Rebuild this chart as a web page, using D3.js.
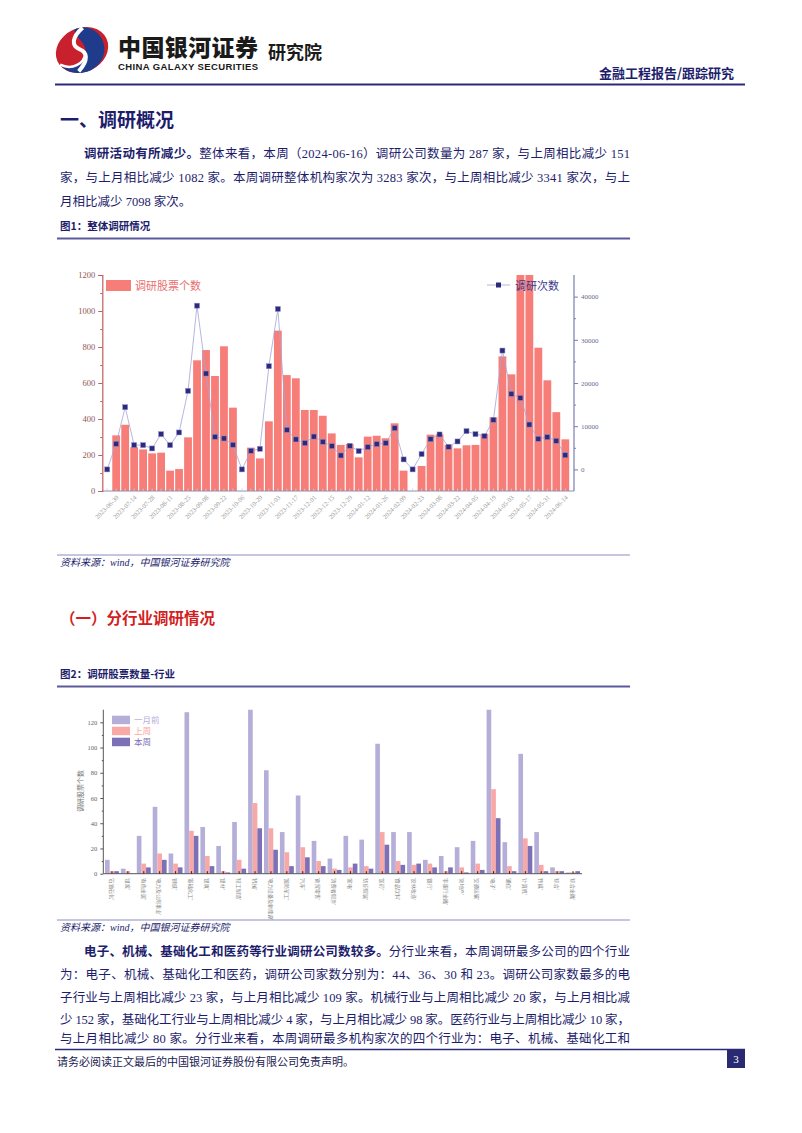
<!DOCTYPE html>
<html><head><meta charset="utf-8">
<script src="https://cdn.jsdelivr.net/npm/d3@7"></script>
<style>
html,body{margin:0;padding:0;background:#fff;}
svg{display:block;}
</style></head>
<body>
<svg id="page" width="802" height="1133"></svg>
<script>
// ---------------- DATA ----------------
const weeks = ["2023-06-23","2023-06-30","2023-07-07","2023-07-14","2023-07-21","2023-07-28","2023-08-04","2023-08-11","2023-08-18","2023-08-25",
"2023-09-01","2023-09-08","2023-09-15","2023-09-22","2023-09-29","2023-10-06","2023-10-13","2023-10-20","2023-10-27","2023-11-03",
"2023-11-10","2023-11-17","2023-11-24","2023-12-01","2023-12-08","2023-12-15","2023-12-22","2023-12-29","2024-01-05","2024-01-12",
"2024-01-19","2024-01-26","2024-02-02","2024-02-09","2024-02-16","2024-02-23","2024-03-01","2024-03-08","2024-03-15","2024-03-22",
"2024-03-29","2024-04-05","2024-04-12","2024-04-19","2024-04-26","2024-05-03","2024-05-10","2024-05-17","2024-05-24","2024-05-31",
"2024-06-07","2024-06-14"];
const weekTickLabels = ["2023-06-30","2023-07-14","2023-07-28","2023-08-11","2023-08-25","2023-09-08","2023-09-22","2023-10-06","2023-10-20",
"2023-11-03","2023-11-17","2023-12-01","2023-12-15","2023-12-29","2024-01-12","2024-01-26","2024-02-09","2024-02-23","2024-03-08",
"2024-03-22","2024-04-05","2024-04-19","2024-05-03","2024-05-17","2024-05-31","2024-06-14"];
const stockCount = [0,309,368,243,231,209,213,113,122,298,726,783,639,804,463,0,241,181,387,891,644,626,450,450,418,320,256,261,187,302,
307,293,376,113,0,139,313,315,256,237,254,256,317,409,748,648,1420,1369,796,615,438,287];
const visitCount = [0,5920,14400,5620,5620,4850,8160,5620,8550,18180,37900,22190,7540,7160,5690,0,4300,4760,23880,37140,
9160,6940,6100,7600,6390,5390,3230,5460,4240,5160,5850,6080,9550,2310,0,3540,7000,8090,5230,6470,
8860,8160,7700,11470,27510,17480,16550,10381,7080,7470,6624,3283];
const leftTicks = [0,200,400,600,800,1000,1200];
const leftMinor = [100,300,500,700,900,1100];
const rightTicks = [0,10000,20000,30000,40000];
const rightMinor = [5000,15000,25000,35000];

const industries = ["'石油石化'","'煤炭'","'有色金属'","'电力及公用事业'","'钢铁'","'基础化工'","'建筑'","'建材'","'轻工制造'","'机械'",
"'电力设备及新能源'","'国防军工'","'汽车'","'商贸零售'","'消费者服务'","'家电'","'纺织服装'","'医药'","'食品饮料'","'农林牧渔'",
"'银行'","'非银行金融'","'房地产'","'交通运输'","'电子'","'通信'","'计算机'","'传媒'","'综合'","'综合金融'"];
const monthAgo = [11,4,30,53,16,128,37,22,41,188,82,33,62,26,12,30,27,103,33,33,11,14,21,26,153,25,95,33,5,1];
const lastWeek = [2,2,8,16,8,34,14,2,11,56,36,17,21,10,4,5,6,33,10,7,8,2,5,8,67,6,28,7,2,1];
const thisWeek = [2,0,5,11,5,30,6,1,4,36,19,6,13,6,3,8,4,23,7,8,5,5,1,3,44,2,22,2,2,2];
const seriesNames = ["一月前","上周","本周"];
const indTicks = [0,20,40,60,80,100,120];
const indMinor = [10,30,50,70,90,110];

// ---------------- PAGE ----------------
const svg = d3.select("#page");
const NAVY = "#1d1d6c";
const CJK = "'Liberation Serif','Noto Sans CJK SC',serif";
const SANS = "'Noto Sans CJK SC','Liberation Sans',sans-serif";

// logo
const logo = svg.append("g").attr("transform","translate(82,50) rotate(-25)");
logo.append("ellipse").attr("rx",27).attr("ry",22).attr("fill","#c8202c");
logo.append("path").attr("d","M 2,-22 C 30,-20 30,20 0,22 C -14,22 -24,14 -26,4 C -18,14 -4,14 2,4 C 8,-6 -2,-14 2,-22 Z").attr("fill","#1f3c8c");
logo.append("path").attr("d","M 10,-20 C -4,-16 -8,-8 -2,-2 C 4,4 2,12 -12,18").attr("fill","none").attr("stroke","#fff").attr("stroke-width",4);
logo.append("path").attr("d","M -26,4 C -18,14 -4,14 2,4").attr("fill","none").attr("stroke","#fff").attr("stroke-width",2.5);

svg.append("text").attr("x",118).attr("y",56).attr("font-family",SANS).attr("font-weight",900)
  .attr("font-size",23).attr("fill","#1a1a1a").attr("textLength",140).text("中国银河证券");
svg.append("text").attr("x",118).attr("y",70).attr("font-family","'Liberation Sans',sans-serif").attr("font-weight",700)
  .attr("font-size",9.5).attr("fill","#1a1a1a").attr("textLength",140).text("CHINA GALAXY SECURITIES");
svg.append("text").attr("x",268).attr("y",59).attr("font-family",SANS).attr("font-weight",700)
  .attr("font-size",18).attr("fill","#1a1a1a").text("研究院");
svg.append("text").attr("x",734).attr("y",78).attr("text-anchor","end").attr("font-family",SANS).attr("font-weight",700)
  .attr("font-size",13).attr("fill",NAVY).text("金融工程报告/跟踪研究");
svg.append("line").attr("x1",55).attr("x2",745).attr("y1",84.5).attr("y2",84.5).attr("stroke","#2a2a7a").attr("stroke-width",2);

// section title
svg.append("text").attr("x",60).attr("y",127).attr("font-family",SANS).attr("font-weight",700)
  .attr("font-size",19).attr("fill",NAVY).text("一、调研概况");

function para(x, y, width, parts, size){
  const t = svg.append("text").attr("x",x).attr("y",y).attr("font-family",CJK).attr("font-size",size||12.5)
    .attr("fill",NAVY).attr("textLength",width).attr("lengthAdjust","spacing");
  parts.forEach(p=>{
    const s = t.append("tspan").text(p.t);
    if(p.b){ s.attr("font-weight",700).attr("font-family",SANS); }
  });
  return t;
}
para(84,158,546,[{t:"调研活动有所减少。",b:1},{t:"整体来看，本周（2024-06-16）调研公司数量为 287 家，与上周相比减少 151"}]);
para(60,182,570,[{t:"家，与上月相比减少 1082 家。本周调研整体机构家次为 3283 家次，与上周相比减少 3341 家次，与上"}]);
svg.append("text").attr("x",60).attr("y",206).attr("font-family",CJK).attr("font-size",12.5).attr("fill",NAVY)
  .text("月相比减少 7098 家次。");

function figTitle(y, txt){
  svg.append("text").attr("x",60).attr("y",y).attr("font-family",SANS).attr("font-weight",700)
    .attr("font-size",10.5).attr("fill",NAVY).text(txt);
  svg.append("line").attr("x1",57).attr("x2",630).attr("y1",y+8.5).attr("y2",y+8.5).attr("stroke","#5a5a9c").attr("stroke-width",2);
}
function source(y){
  svg.append("line").attr("x1",57).attr("x2",630).attr("y1",y).attr("y2",y).attr("stroke","#8c8cc0").attr("stroke-width",1);
  svg.append("text").attr("x",60).attr("y",y+11).attr("font-family",CJK).attr("font-style","italic")
    .attr("font-size",10).attr("fill",NAVY).text("资料来源：wind，中国银河证券研究院");
}
figTitle(230,"图1：整体调研情况");
source(555);

svg.append("text").attr("x",60).attr("y",624).attr("font-family",SANS).attr("font-weight",700)
  .attr("font-size",15.5).attr("fill","#d21f1f").text("（一）分行业调研情况");
figTitle(678,"图2：调研股票数量-行业");
source(920);

// ---------------- CHART 1 ----------------
const c1 = svg.append("g");
const X0 = 102.3, X1 = 574, YB = 491, YT = 275;
const x1 = d3.scalePoint().domain(weeks).range([107.2, 565.3]);
const yL = d3.scaleLinear().domain([0,1200]).range([YB,YT]);
const yR = d3.scaleLinear().domain([-5000,45000]).range([YB,YT]);
svg.append("defs").append("clipPath").attr("id","clip1").append("rect")
  .attr("x",X0).attr("y",YT).attr("width",X1-X0).attr("height",YB-YT);
c1.append("g").attr("clip-path","url(#clip1)").selectAll("rect").data(weeks).join("rect")
  .attr("x",d=>x1(d)-3.9).attr("width",7.8)
  .attr("y",(d,i)=>yL(stockCount[i])).attr("height",(d,i)=>YB-yL(stockCount[i]))
  .attr("fill","#f77d79");
// x axis
c1.append("line").attr("x1",X0).attr("x2",X1).attr("y1",YB).attr("y2",YB).attr("stroke","#8e8eae").attr("stroke-width",1);
c1.append("g").selectAll("line").data(weeks).join("line")
  .attr("x1",d=>x1(d)).attr("x2",d=>x1(d)).attr("y1",YB).attr("y2",YB-2.5).attr("stroke","#c9c9d6").attr("stroke-width",0.8);
c1.append("g").selectAll("text").data(weekTickLabels).join("text")
  .attr("transform",d=>`translate(${x1(d)+3},${YB+7}) rotate(-45)`)
  .attr("text-anchor","end").attr("font-family","'Liberation Serif',serif").attr("font-size",6.5)
  .attr("fill","#9a9a9a").text(d=>d);
// left axis
const la = c1.append("g").attr("transform",`translate(${X0},0)`)
  .call(d3.axisLeft(yL).tickValues(leftTicks).tickSize(4).tickPadding(3).tickFormat(d3.format("d")));
la.selectAll("path").attr("stroke","#c25c5c").attr("stroke-width",1.2);
la.selectAll("line").attr("stroke","#c25c5c");
la.selectAll("text").attr("font-family","'Liberation Serif',serif").attr("font-size",8.5).attr("fill","#8e5555");
const lm = c1.append("g").attr("transform",`translate(${X0},0)`)
  .call(d3.axisLeft(yL).tickValues(leftMinor).tickSize(2).tickFormat(""));
lm.select("path").remove(); lm.selectAll("line").attr("stroke","#c25c5c");
// right axis
const ra = c1.append("g").attr("transform",`translate(${X1},0)`)
  .call(d3.axisRight(yR).tickValues(rightTicks).tickSize(4).tickPadding(3).tickFormat(d3.format("d")));
ra.select("path").attr("d",`M0,${YT}V${YB}`).attr("stroke","#7c7cb0").attr("stroke-width",1.2);
ra.selectAll("line").attr("stroke","#7c7cb0");
ra.selectAll("text").attr("font-family","'Liberation Serif',serif").attr("font-size",7).attr("fill","#6a6a92");
const rm = c1.append("g").attr("transform",`translate(${X1},0)`)
  .call(d3.axisRight(yR).tickValues(rightMinor).tickSize(2).tickFormat(""));
rm.select("path").remove(); rm.selectAll("line").attr("stroke","#7c7cb0");
// line + markers
c1.append("path").datum(weeks).attr("fill","none").attr("stroke","#a3a3d6").attr("stroke-width",0.8)
  .attr("d",d3.line().x(d=>x1(d)).y((d,i)=>yR(visitCount[i])));
c1.append("g").selectAll("rect").data(weeks).join("rect")
  .attr("x",d=>x1(d)-2.5).attr("y",(d,i)=>yR(visitCount[i])-2.5).attr("width",5).attr("height",5)
  .attr("fill","#2c2a7c").attr("stroke","#8d8dc8").attr("stroke-width",0.5);
// legends
c1.append("rect").attr("x",106).attr("y",280).attr("width",25).attr("height",11).attr("fill","#f77d79");
c1.append("text").attr("x",135).attr("y",289.5).attr("font-family",CJK).attr("font-size",11).attr("fill","#e86f6f").text("调研股票个数");
c1.append("line").attr("x1",487).attr("x2",510).attr("y1",285).attr("y2",285).attr("stroke","#a3a3d6").attr("stroke-width",0.8);
c1.append("rect").attr("x",496).attr("y",282.5).attr("width",5).attr("height",5).attr("fill","#2c2a7c");
c1.append("text").attr("x",515).attr("y",289.5).attr("font-family",CJK).attr("font-size",11).attr("fill","#3a3a8c").text("调研次数");

// ---------------- CHART 2 ----------------
const c2 = svg.append("g");
const AX0 = 103.3, AX1 = 582, B2 = 873.7, T2 = 709.7;
const xg = d3.scaleBand().domain(industries).range([105,580]).paddingInner(0.125).paddingOuter(0);
const xs = d3.scaleBand().domain(seriesNames).range([0,xg.bandwidth()]);
const y2 = d3.scaleLinear().domain([0,130]).range([B2,T2]);
const colors = {"一月前":"#b4aed8","上周":"#f8a9a7","本周":"#7c70b6"};
const seriesVals = {"一月前":monthAgo,"上周":lastWeek,"本周":thisWeek};
svg.select("defs").append("clipPath").attr("id","clip2").append("rect")
  .attr("x",AX0).attr("y",T2).attr("width",AX1-AX0).attr("height",B2-T2);
const bars2 = c2.append("g").attr("clip-path","url(#clip2)");
seriesNames.forEach(s=>{
  bars2.append("g").selectAll("rect").data(industries).join("rect")
    .attr("x",d=>xg(d)+xs(s)).attr("width",xs.bandwidth())
    .attr("y",(d,i)=>y2(seriesVals[s][i])).attr("height",(d,i)=>B2-y2(seriesVals[s][i]))
    .attr("fill",colors[s]);
});
c2.append("line").attr("x1",AX0).attr("x2",AX1).attr("y1",B2).attr("y2",B2).attr("stroke","#555").attr("stroke-width",1);
c2.append("g").selectAll("line").data(industries).join("line")
  .attr("x1",d=>xg(d)+xg.bandwidth()/2).attr("x2",d=>xg(d)+xg.bandwidth()/2)
  .attr("y1",B2).attr("y2",B2-2.5).attr("stroke","#5a1414").attr("stroke-width",1);
c2.append("g").selectAll("text").data(industries).join("text")
  .attr("transform",d=>`translate(${xg(d)+xg.bandwidth()/2-2.2},${B2+4}) rotate(90)`)
  .attr("font-family",CJK).attr("font-size",5.1).attr("fill","#8a8a8a").text(d=>d);
const ya = c2.append("g").attr("transform",`translate(${AX0},0)`)
  .call(d3.axisLeft(y2).tickValues(indTicks).tickSize(3).tickPadding(3));
ya.select("path").attr("d",`M0,${B2}V${T2}`).attr("stroke","#555").attr("stroke-width",1);
ya.selectAll("line").attr("stroke","#555");
ya.selectAll("text").attr("font-family","'Liberation Serif',serif").attr("font-size",6.5).attr("fill","#666");
const ym = c2.append("g").attr("transform",`translate(${AX0},0)`)
  .call(d3.axisLeft(y2).tickValues(indMinor).tickSize(1.5).tickFormat(""));
ym.select("path").remove(); ym.selectAll("line").attr("stroke","#555");
c2.append("text").attr("transform","translate(83,791) rotate(-90)").attr("text-anchor","middle")
  .attr("font-family",CJK).attr("font-size",7).attr("fill","#777").text("调研股票个数");
seriesNames.forEach((s,i)=>{
  c2.append("rect").attr("x",112).attr("y",715.7+i*11).attr("width",18).attr("height",8.5).attr("fill",colors[s]);
  c2.append("text").attr("x",134).attr("y",723+i*11).attr("font-family",CJK).attr("font-size",8.5)
    .attr("fill",colors[s]).text(s);
});

// ---------------- PARAGRAPH 2 ----------------
para(84,956,546,[{t:"电子、机械、基础化工和医药等行业调研公司数较多。",b:1},{t:"分行业来看，本周调研最多公司的四个行业"}]);
para(60,979,570,[{t:"为：电子、机械、基础化工和医药，调研公司家数分别为：44、36、30 和 23。调研公司家数最多的电"}]);
para(60,1002,570,[{t:"子行业与上周相比减少 23 家，与上月相比减少 109 家。机械行业与上周相比减少 20 家，与上月相比减"}]);
para(60,1024,570,[{t:"少 152 家，基础化工行业与上周相比减少 4 家，与上月相比减少 98 家。医药行业与上周相比减少 10 家，"}]);
para(60,1043,570,[{t:"与上月相比减少 80 家。分行业来看，本周调研最多机构家次的四个行业为：电子、机械、基础化工和"}]);

// footer
svg.append("line").attr("x1",55).attr("x2",745).attr("y1",1049.5).attr("y2",1049.5).attr("stroke","#2a2a7a").attr("stroke-width",1.5);
svg.append("text").attr("x",57).attr("y",1066).attr("font-family",CJK).attr("font-size",11).attr("fill","#1a1a50")
  .text("请务必阅读正文最后的中国银河证券股份有限公司免责声明。");
svg.append("rect").attr("x",727).attr("y",1049).attr("width",18).attr("height",19).attr("fill","#2a2a72");
svg.append("text").attr("x",736).attr("y",1063).attr("text-anchor","middle").attr("font-family","'Liberation Serif',serif")
  .attr("font-size",11).attr("fill","#fff").text("3");
</script>
</body></html>
